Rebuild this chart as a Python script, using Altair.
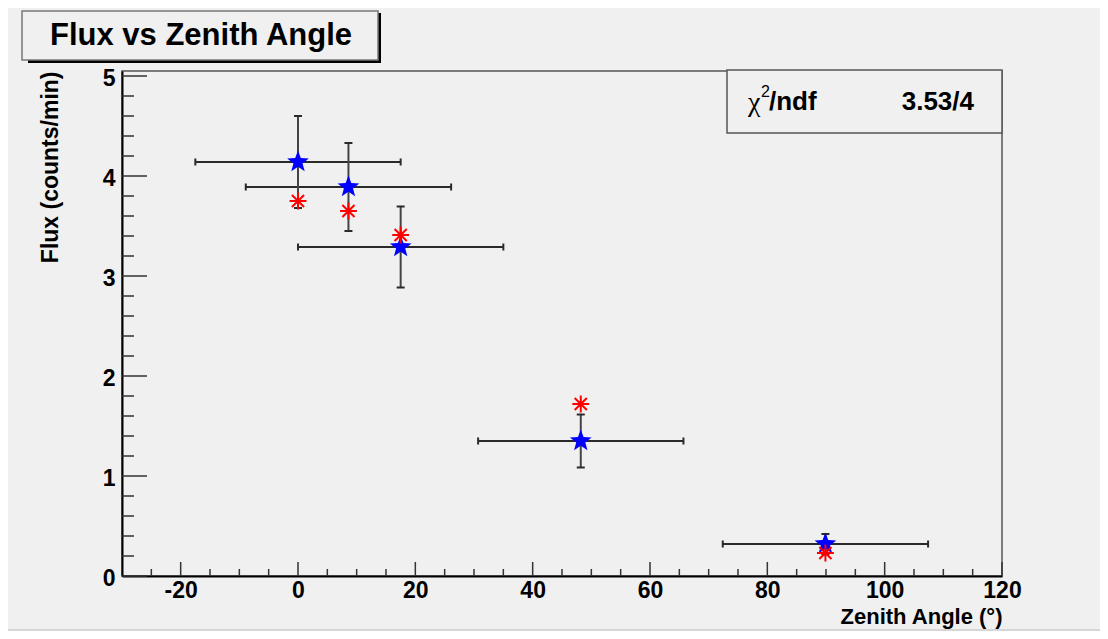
import altair as alt
import pandas as pd

# ---- data ----
zenith = [0.0, 8.6, 17.5, 48.2, 89.9]
zenith_err = [17.5, 17.5, 17.5, 17.5, 17.5]
flux = [4.14, 3.89, 3.29, 1.35, 0.32]
flux_err = [0.46, 0.44, 0.405, 0.265, 0.10]
expected = [3.75, 3.65, 3.41, 1.72, 0.23]

x_major = [-20, 0, 20, 40, 60, 80, 100, 120]
x_minor = [-25, -15, -10, -5, 5, 10, 15, 25, 30, 35, 45, 50, 55, 65, 70, 75,
           85, 90, 95, 105, 110, 115]
y_major = [0, 1, 2, 3, 4, 5]
y_minor = [0.2, 0.4, 0.6, 0.8, 1.2, 1.4, 1.6, 1.8, 2.2, 2.4, 2.6, 2.8,
           3.2, 3.4, 3.6, 3.8, 4.2, 4.4, 4.6, 4.8]

title_text = "Flux vs Zenith Angle"
x_title = "Zenith Angle (°)"
y_title = "Flux (counts/min)"
stat_value = "3.53/4"

W, H = 880, 505
FONT = "Liberation Sans"
BG = "#f0f0f0"

df = pd.DataFrame({
    "zenith": zenith, "zenith_err": zenith_err,
    "flux": flux, "flux_err": flux_err, "expected": expected,
})

xs = alt.Scale(domain=[-30, 120], nice=False, zero=False)
ys = alt.Scale(domain=[0, 5.05], nice=False, zero=False)

base = alt.Chart(df).transform_calculate(
    x_lo="datum.zenith - datum.zenith_err",
    x_hi="datum.zenith + datum.zenith_err",
    y_lo="datum.flux - datum.flux_err",
    y_hi="datum.flux + datum.flux_err",
)

x_axis = alt.Axis(
    values=x_major, title=x_title, ticks=False, tickSize=0, grid=False,
    domainColor="black", domainWidth=2,
    labelFont=FONT, labelFontSize=23, labelFontWeight="bold", labelColor="black",
    labelPadding=3, labelFlush=False, labelOverlap=False, labelBound=False,
    labelExpr="datum.value < 0 ? '-' + abs(datum.value) : '' + datum.value",
    titleFont=FONT, titleFontSize=22, titleFontWeight="bold", titleColor="black",
    titleAlign="right", titleAnchor="end", titleX=W, titleY=47,
    titleBaseline="alphabetic",
)
y_axis = alt.Axis(
    values=y_major, title=y_title, ticks=False, tickSize=0, grid=False,
    domainColor="black", domainWidth=2,
    labelFont=FONT, labelFontSize=23, labelFontWeight="bold", labelColor="black",
    labelPadding=7, labelOffset=2, labelFlush=False, labelOverlap=False, labelBound=False,
    labelExpr="'' + datum.value",
    titleFont=FONT, titleFontSize=23, titleFontWeight="bold", titleColor="black",
    titleAngle=270, titleAlign="right", titleBaseline="middle",
    titleX=-72, titleY=0,
)


def X(field):
    return alt.X(field, scale=xs, axis=x_axis)


def Y(field):
    return alt.Y(field, scale=ys, axis=y_axis)


EB = "#2a2a2a"

hbar = base.mark_rule(color=EB, strokeWidth=2).encode(
    x=X("x_lo:Q"), x2="x_hi:Q", y=Y("flux:Q"))
hcap_lo = base.mark_tick(orient="vertical", size=7, thickness=2, color=EB, opacity=1).encode(
    x=X("x_lo:Q"), y=Y("flux:Q"))
hcap_hi = base.mark_tick(orient="vertical", size=7, thickness=2, color=EB, opacity=1).encode(
    x=X("x_hi:Q"), y=Y("flux:Q"))
vbar = base.mark_rule(color="#444", strokeWidth=2).encode(
    x=X("zenith:Q"), y=Y("y_lo:Q"), y2="y_hi:Q")
vcap_lo = base.mark_tick(orient="horizontal", size=8, thickness=2, color=EB, opacity=1).encode(
    x=X("zenith:Q"), y=Y("y_lo:Q"))
vcap_hi = base.mark_tick(orient="horizontal", size=8, thickness=2, color=EB, opacity=1).encode(
    x=X("zenith:Q"), y=Y("y_hi:Q"))

STAR = ("M0,-1L0.247,-0.34L0.951,-0.309L0.4,0.13L0.588,0.809L0,0.42"
        "L-0.588,0.809L-0.4,0.13L-0.951,-0.309L-0.247,-0.34Z")
AST = "M-1,0L1,0M0,-1L0,1M-0.72,-0.72L0.72,0.72M-0.72,0.72L0.72,-0.72"

stars = base.mark_point(shape=STAR, filled=True, color="#0000ff", opacity=1,
                        size=520, strokeWidth=0).encode(
    x=X("zenith:Q"), y=Y("flux:Q"))
asts = base.mark_point(shape=AST, filled=False, color="#ff0000", opacity=1,
                       size=285, strokeWidth=2).encode(
    x=X("zenith:Q"), y=Y("expected:Q"))

# axis ticks (drawn inward, ROOT style)
xmaj = alt.Chart(pd.DataFrame({"v": x_major})).mark_rule(color="#333", strokeWidth=1.5).encode(
    x=X("v:Q"), y=alt.value(H), y2=alt.value(H - 14))
xmin = alt.Chart(pd.DataFrame({"v": x_minor})).mark_rule(color="#333", strokeWidth=1.5).encode(
    x=X("v:Q"), y=alt.value(H), y2=alt.value(H - 7))
ymaj = alt.Chart(pd.DataFrame({"v": y_major})).mark_rule(color="#333", strokeWidth=1.5).encode(
    y=Y("v:Q"), x=alt.value(0), x2=alt.value(25))
ymin = alt.Chart(pd.DataFrame({"v": y_minor})).mark_rule(color="#333", strokeWidth=1.5).encode(
    y=Y("v:Q"), x=alt.value(0), x2=alt.value(12))

one = pd.DataFrame({"d": [0]})

# title box with shadow
t_shadow = alt.Chart(one).mark_rect(color="black").encode(
    x=alt.value(-94), x2=alt.value(259), y=alt.value(-58), y2=alt.value(-8))
t_box = alt.Chart(one).mark_rect(fill=BG, stroke="#777", strokeWidth=1.5).encode(
    x=alt.value(-100), x2=alt.value(256), y=alt.value(-60), y2=alt.value(-11))
t_text = alt.Chart(one).mark_text(text=title_text, font=FONT, fontSize=31, fontWeight="bold",
                                  align="center", baseline="alphabetic", color="black").encode(
    x=alt.value(79), y=alt.value(-26))

# stats box
s_box = alt.Chart(one).mark_rect(fill=BG, stroke="#555", strokeWidth=1.5).encode(
    x=alt.value(605), x2=alt.value(880), y=alt.value(-1), y2=alt.value(62))
s_chi = alt.Chart(one).mark_text(text="χ", font="Liberation Serif", fontSize=28,
                                 align="left", baseline="alphabetic", color="black").encode(
    x=alt.value(626), y=alt.value(40))
s_sup = alt.Chart(one).mark_text(text="2", font=FONT, fontSize=16,
                                 align="left", baseline="alphabetic", color="black").encode(
    x=alt.value(639), y=alt.value(26))
s_ndf = alt.Chart(one).mark_text(text="/ndf", font=FONT, fontSize=26, fontWeight="bold",
                                 align="left", baseline="alphabetic", color="black").encode(
    x=alt.value(647), y=alt.value(39))
s_val = alt.Chart(one).mark_text(text=stat_value, font=FONT, fontSize=26, fontWeight="bold",
                                 align="right", baseline="alphabetic", color="black").encode(
    x=alt.value(852), y=alt.value(39))

bevel = alt.Chart(one).mark_rect(color="#d6d6d6").encode(
    x=alt.value(-114), x2=alt.value(W + 98), y=alt.value(558), y2=alt.value(560))

chart = alt.layer(
    bevel, xmaj, xmin, ymaj, ymin,
    hbar, hcap_lo, hcap_hi, vbar, vcap_lo, vcap_hi, stars, asts,
    t_shadow, t_box, t_text, s_box, s_chi, s_sup, s_ndf, s_val,
).properties(
    width=W, height=H,
    autosize=alt.AutoSizeParams(type="none"),
    padding={"left": 114, "top": 63, "right": 98, "bottom": 55},
    background=BG,
).configure_view(stroke="#555", strokeWidth=1.5, fill=BG)

chart.save("out.html", embed_options={"renderer": "svg", "actions": False})
